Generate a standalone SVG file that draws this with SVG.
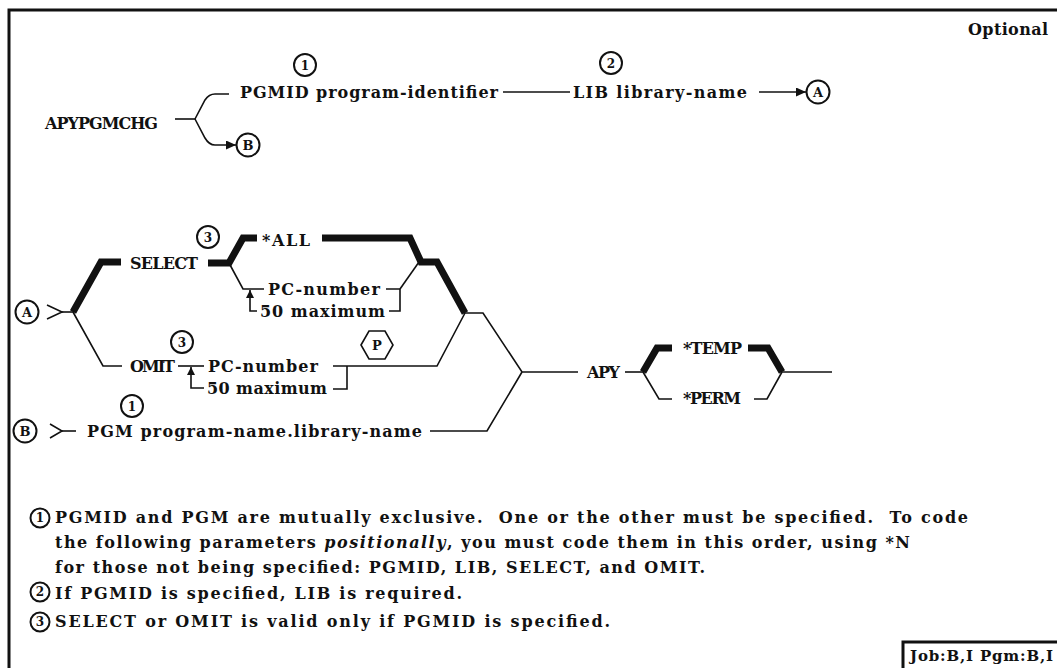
<svg xmlns="http://www.w3.org/2000/svg" width="1057" height="668" viewBox="0 0 1057 668">
<defs>
<style>
.t{font-family:"DejaVu Serif","Liberation Serif",serif;font-weight:bold;font-size:16px;fill:#111}
.n{font-family:"DejaVu Serif","Liberation Serif",serif;font-weight:bold;font-size:16px;fill:#111}
.cl{font-family:"DejaVu Serif","Liberation Serif",serif;font-weight:bold;font-size:13px;fill:#111;text-anchor:middle}
.cs{font-family:"DejaVu Serif","Liberation Serif",serif;font-weight:bold;font-size:12px;fill:#111;text-anchor:middle}
.ln{fill:none;stroke:#111;stroke-width:1.6}
.th{fill:none;stroke:#111;stroke-width:7;stroke-linejoin:miter}
.c{fill:#fff;stroke:#111;stroke-width:2}
.fr{fill:none;stroke:#111;stroke-width:3}
</style>
<marker id="arr" markerUnits="userSpaceOnUse" markerWidth="10" markerHeight="10" refX="10" refY="4.5" orient="auto"><path d="M0,0 L10,4.5 L0,9 z" fill="#111"/></marker>
<marker id="arrs" markerUnits="userSpaceOnUse" markerWidth="9" markerHeight="9" refX="8" refY="4" orient="auto"><path d="M0,0 L8,4 L0,8 z" fill="#111"/></marker>
</defs>
<rect width="1057" height="668" fill="#fff"/>
<g id="frame">
<path class="fr" d="M9,668 L9,10 L1057,10"/>
</g>
<text id="optional" class="t" x="968" y="35" textLength="80" lengthAdjust="spacing">Optional</text>

<g id="connectors">
<path class="ln" d="M175,119 L195,119"/>
<path class="ln" d="M195,119 L205,100 Q209,94 215,94 L229,94"/>
<path class="ln" d="M195,119 L205,138 Q209,145 215,145 L236,145" marker-end="url(#arr)"/>
<path class="ln" d="M503,92 L570,92"/>
<path class="ln" d="M759,92 L806,92" marker-end="url(#arr)"/>
<path class="ln" d="M47,305 L62,312 L47,319"/>
<path class="ln" d="M62,312 L73,312"/>
<path class="th" d="M73,312 L101,262 L121,262"/>
<path class="ln" d="M73,312 L103,366 L122,366"/>
<path class="th" d="M208,263 L229,263 L243,238 L257,238"/>
<path class="ln" d="M229,263 L243,289 L264,289"/>
<path class="ln" d="M257,311 L250,311 L250,290" marker-end="url(#arrs)"/>
<path class="th" d="M322,238 L410,238 L421,262 L437,262 L465,313"/>
<path class="ln" d="M386,289 L400,289 L400,311 L389,311"/>
<path class="ln" d="M400,289 L419,262"/>
<path class="ln" d="M178,366 L204,366"/>
<path class="ln" d="M204,388 L191,388 L191,367" marker-end="url(#arrs)"/>
<path class="ln" d="M333,366 L437,366 L465,313"/>
<path class="ln" d="M347,366 L347,389 L333,389"/>
<path class="ln" d="M465,313 L483,313 L522,372 L578,372"/>
<path class="ln" d="M430,431 L487,431 L522,372"/>
<path class="ln" d="M50,424 L62,431 L50,438"/>
<path class="ln" d="M62,431 L76,431"/>
<path class="ln" d="M625,372 L643,372"/>
<path class="th" d="M643,372 L657,348 L672,348"/>
<path class="ln" d="M643,372 L659,399 L672,399"/>
<path class="th" d="M748,348 L768,348 L782,372"/>
<path class="ln" d="M754,399 L767,399 L782,372"/>
<path class="ln" d="M782,372 L832,372"/>
</g>

<g id="cmd"><text class="t" x="45" y="129" textLength="113" lengthAdjust="spacing">APYPGMCHG</text></g>
<g id="pgmid"><text class="t" x="240" y="98" textLength="258" lengthAdjust="spacing">PGMID program-identifier</text></g>
<g id="lib"><text class="t" x="573" y="98" textLength="174" lengthAdjust="spacing">LIB library-name</text></g>
<g id="n1top"><circle class="c" cx="305" cy="65" r="11"/><text class="cs" x="305" y="69.5">1</text></g>
<g id="n2top"><circle class="c" cx="611" cy="63" r="11"/><text class="cs" x="611" y="67.5">2</text></g>
<g id="atop"><circle class="c" cx="818" cy="92" r="11.5"/><text class="cl" x="818" y="96.8">A</text></g>
<g id="btop"><circle class="c" cx="248" cy="145" r="11.5"/><text class="cl" x="248" y="149.8">B</text></g>

<g id="aleft"><circle class="c" cx="27" cy="312" r="11.5"/><text class="cl" x="27" y="316.8">A</text></g>
<g id="select"><text class="t" x="130" y="269" textLength="68" lengthAdjust="spacing">SELECT</text></g>
<g id="n3sel"><circle class="c" cx="208" cy="237" r="11"/><text class="cs" x="208" y="241.5">3</text></g>
<g id="all"><text class="t" x="262" y="246" textLength="48" lengthAdjust="spacing">*ALL</text></g>
<g id="pcsel"><text class="t" x="268" y="295" textLength="112" lengthAdjust="spacing">PC-number</text></g>
<g id="maxsel"><text class="t" x="260" y="317" textLength="125" lengthAdjust="spacing">50 maximum</text></g>
<g id="omit"><text class="t" x="130" y="372" textLength="45" lengthAdjust="spacing">OMIT</text></g>
<g id="n3omit"><circle class="c" cx="182" cy="342" r="11"/><text class="cs" x="182" y="346.5">3</text></g>
<g id="pcomit"><text class="t" x="208" y="372" textLength="110" lengthAdjust="spacing">PC-number</text></g>
<g id="maxomit"><text class="t" x="207" y="394" textLength="120" lengthAdjust="spacing">50 maximum</text></g>
<g id="pgmp"><polygon class="c" points="361,345 369,331 385,331 393,345 385,359 369,359" style="stroke-width:1.6"/><text class="cl" x="377" y="350">P</text></g>
<g id="bleft"><circle class="c" cx="25" cy="431" r="11.5"/><text class="cl" x="25" y="435.8">B</text></g>
<g id="n1pgm"><circle class="c" cx="132" cy="406" r="11"/><text class="cs" x="132" y="410.5">1</text></g>
<g id="pgm"><text class="t" x="87" y="437" textLength="335" lengthAdjust="spacing">PGM program-name.library-name</text></g>
<g id="apy"><text class="t" x="587" y="378" textLength="33" lengthAdjust="spacing">APY</text></g>
<g id="temp"><text class="t" x="683" y="354" textLength="59" lengthAdjust="spacing">*TEMP</text></g>
<g id="perm"><text class="t" x="683" y="404" textLength="58" lengthAdjust="spacing">*PERM</text></g>

<g id="notes">
<circle class="c" cx="40" cy="518" r="9.5"/><text class="cs" x="40" y="522.3">1</text>
<text class="n" x="55" y="523" textLength="913" lengthAdjust="spacing" xml:space="preserve">PGMID and PGM are mutually exclusive.  One or the other must be specified.  To code</text>
<text class="n" x="55" y="548" textLength="855" lengthAdjust="spacing">the following parameters <tspan font-style="italic">positionally</tspan>, you must code them in this order, using *N</text>
<text class="n" x="55" y="573" textLength="650" lengthAdjust="spacing">for those not being specified: PGMID, LIB, SELECT, and OMIT.</text>
<circle class="c" cx="40" cy="592" r="9.5"/><text class="cs" x="40" y="596.3">2</text>
<text class="n" x="55" y="599" textLength="407" lengthAdjust="spacing">If PGMID is specified, LIB is required.</text>
<circle class="c" cx="40" cy="622" r="9.5"/><text class="cs" x="40" y="626.3">3</text>
<text class="n" x="55" y="627" textLength="555" lengthAdjust="spacing">SELECT or OMIT is valid only if PGMID is specified.</text>
</g>

<g id="jobbox">
<path class="fr" d="M903,668 L903,642 L1057,642"/>
<text class="t" x="910" y="661" style="font-size:15px" textLength="143" lengthAdjust="spacing">Job:B,I Pgm:B,I</text>
</g>
</svg>
